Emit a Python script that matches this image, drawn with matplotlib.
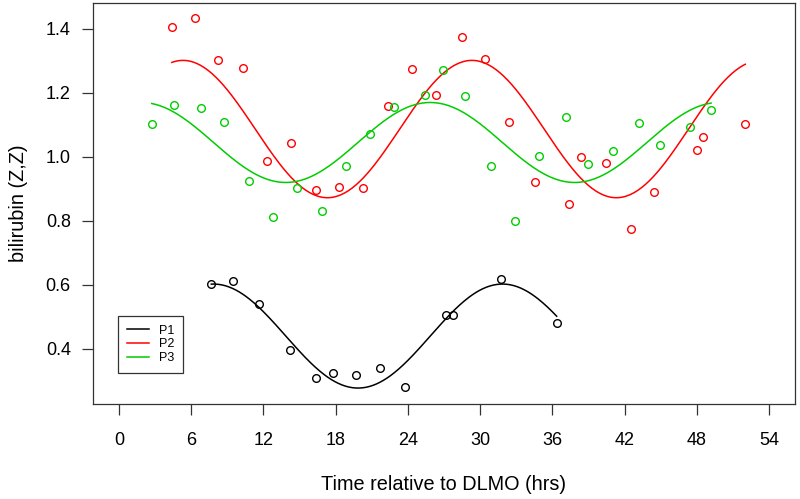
import numpy as np
import matplotlib
matplotlib.use('Agg')
import matplotlib.pyplot as plt

plt.rcParams['font.family'] = ['Liberation Sans', 'DejaVu Sans']

# P1 (black)
p1_time = [7.67, 9.5, 11.67, 14.17, 16.33, 17.75, 19.69, 21.69, 23.72, 27.17, 27.75, 31.75, 36.36]
p1_bili = [0.603, 0.613, 0.541, 0.397, 0.309, 0.325, 0.318, 0.339, 0.280, 0.506, 0.506, 0.619, 0.480]

# P2 (red)
p2_time = [4.39, 6.28, 8.25, 10.28, 12.31, 14.31, 16.33, 18.28, 20.31, 22.33, 24.33, 26.36,
           28.5, 30.42, 32.42, 34.56, 37.39, 38.42, 40.42, 42.5, 44.47, 48.0, 48.5, 52.03]
p2_bili = [1.407, 1.435, 1.304, 1.279, 0.988, 1.045, 0.896, 0.906, 0.902, 1.158, 1.275, 1.193,
           1.374, 1.306, 1.108, 0.922, 0.853, 1.001, 0.982, 0.774, 0.890, 1.021, 1.063, 1.104]

# P3 (green)
p3_time = [2.72, 4.56, 6.78, 8.72, 10.83, 12.81, 14.81, 16.83, 18.86, 20.89, 22.86, 25.42,
           26.89, 28.75, 30.92, 32.86, 34.92, 37.14, 38.97, 41.0, 43.17, 44.97, 47.47, 49.19]
p3_bili = [1.102, 1.163, 1.153, 1.109, 0.925, 0.813, 0.904, 0.831, 0.971, 1.073, 1.156, 1.192,
           1.273, 1.190, 0.973, 0.801, 1.003, 1.124, 0.977, 1.018, 1.105, 1.038, 1.093, 1.146]

labels = ['P1', 'P2', 'P3']
colors = ['black', '#FF0000', '#00CD00']
period = 24.0


def cosinor_fit(t, y, per=period):
    '''
    least squares fit of y = M + b*cos(wt) + g*sin(wt)
    '''
    t = np.asarray(t)
    w = 2 * np.pi / per
    X = np.column_stack([np.ones_like(t), np.cos(w * t), np.sin(w * t)])
    coef, _, _, _ = np.linalg.lstsq(X, np.asarray(y), rcond=None)
    return coef


def cosinor_curve(coef, t, per=period):
    w = 2 * np.pi / per
    return coef[0] + coef[1] * np.cos(w * t) + coef[2] * np.sin(w * t)


fig = plt.figure(figsize=(8, 4.99), dpi=100)
ax = fig.add_axes([93 / 800, 95 / 499, 702 / 800, 401 / 499])

series = [(p1_time, p1_bili), (p2_time, p2_bili), (p3_time, p3_bili)]
for (t, y), lab, col in zip(series, labels, colors):
    ax.plot(t, y, 'o', mfc='none', mec=col, ms=5.5, mew=1.0)
    coef = cosinor_fit(t, y)
    tt = np.linspace(min(t), max(t), 300)
    ax.plot(tt, cosinor_curve(coef, tt), '-', color=col, lw=1.1, label=lab)

ax.set_xlim(-2.16, 56.16)
ax.set_ylim(0.228, 1.481)
ax.set_xticks(np.arange(0, 55, 6))
ax.set_yticks([0.4, 0.6, 0.8, 1.0, 1.2, 1.4])
ax.set_yticklabels(['0.4', '0.6', '0.8', '1.0', '1.2', '1.4'])
ax.tick_params(direction='out', length=8, width=0.9, labelsize=13, color='#333333')
ax.tick_params(axis='x', pad=12)
ax.tick_params(axis='y', pad=8)
for s in ax.spines.values():
    s.set_linewidth(0.9)
    s.set_color('#333333')

ax.set_xlabel('Time relative to DLMO (hrs)', fontsize=14.3, labelpad=19)
ax.set_ylabel('bilirubin (Z,Z)', fontsize=14.3, labelpad=13)

leg = ax.legend(loc='lower left', bbox_to_anchor=(25 / 702, 31 / 401), fontsize=9,
                frameon=True, fancybox=False, edgecolor='black', handlelength=1.75,
                handletextpad=0.85, borderpad=0.7, labelspacing=0.15, borderaxespad=0)
leg.get_frame().set_linewidth(0.9)

fig.savefig('out.png', dpi=100)
